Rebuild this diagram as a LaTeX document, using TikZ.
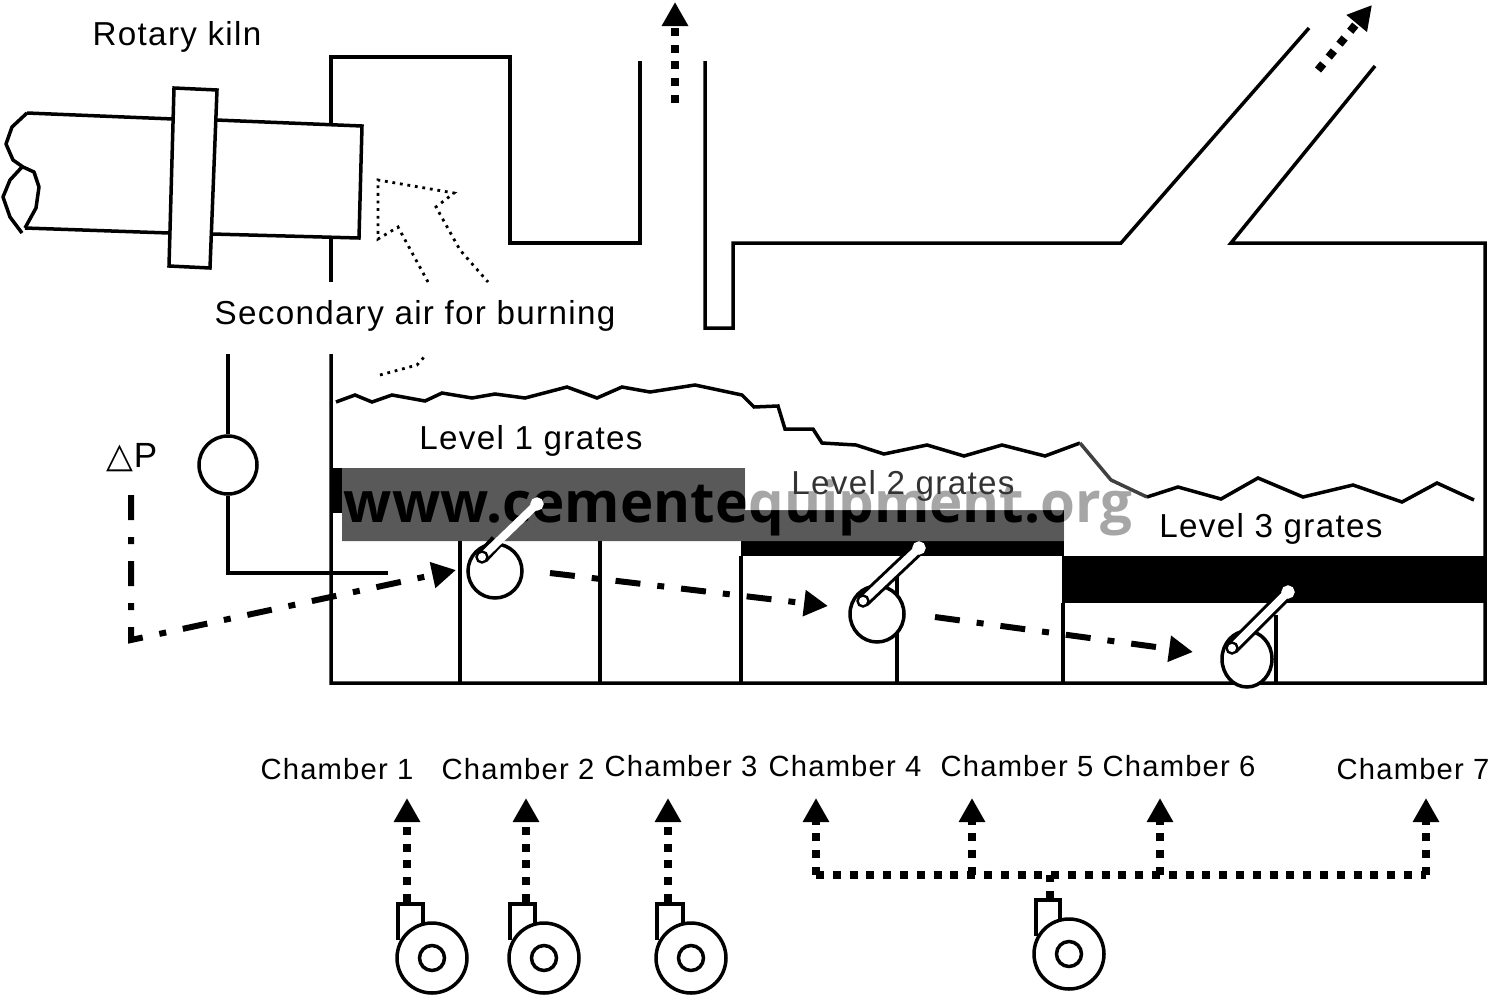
\documentclass[tikz,border=0pt]{standalone}
\usepackage{fontspec}
\setmainfont[LetterSpace=4]{Liberation Sans}
\newfontfamily\symfont{DejaVu Sans}
\newfontfamily\markfont[Scale=1]{Open Sans}
\usetikzlibrary{arrows.meta,shapes.geometric}
\definecolor{wmdark}{HTML}{595959}
\tikzset{
  x=0.5pt,y=-0.5pt,
  wall/.style={line width=1.75pt,line join=miter,line cap=butt},
  thinwall/.style={line width=1.75pt},
  ring/.style={circle,draw,line width=1.75pt,fill=white,inner sep=0pt},
  eye/.style={ellipse,draw,line width=1.75pt,fill=white,inner sep=0pt},
  dotair/.style={line width=1.4pt,dash pattern=on 1.4pt off 2.4pt},
  flow/.style={line width=4pt,dash pattern=on 4pt off 4.4pt,-{Triangle[length=12pt,width=12.5pt]}},
  flowline/.style={line width=4pt,dash pattern=on 4pt off 4.4pt},
  ctrl/.style={line width=3pt,dash pattern=on 12.5pt off 8.5pt on 3.5pt off 8.5pt,-{Triangle[length=12pt,width=12.5pt]}},
  lab/.style={font=\fontsize{16.6}{16.6}\selectfont,inner sep=0pt,text=black},
  chlab/.style={font=\fontsize{14.6}{14.6}\selectfont,inner sep=0pt,text=black},
  pin/.style={circle,draw,line width=1.2pt,fill=white,inner sep=0pt,minimum size=5.5pt},
}
\newcommand{\crank}[5]{% name, x1,y1,x2,y2
  \coordinate (#1a) at (#2,#3);
  \coordinate (#1b) at (#4,#5);
  \draw[line width=7pt] (#1a) -- (#1b);
  \draw[line width=4pt,white] (#1a) -- (#1b);
  \node[pin] at (#1a) {};
  \node[pin,draw=white] at (#1b) {};
}
\newcommand{\fan}[3]{% name, cx, cy
  \node[ring,minimum size=35pt] (#1) at (#2,#3) {};
  \node[ring,minimum size=12.5pt] (#1h) at (#2,#3) {};
}
\begin{document}
\begin{tikzpicture}
\useasboundingbox (0,0) rectangle (1489,996);
% grate bars
\fill (331,468) rectangle (342,513);
\fill (741,541) rectangle (1064,556);
\fill (1062,556) rectangle (1485,603);
% watermark
\fill[wmdark] (342,468) -- (745,468) -- (745,510) -- (1064,510) -- (1064,541) -- (342,541) -- cycle;
\node[inner sep=0pt,font=\markfont\bfseries\fontsize{28.2}{28.2}\selectfont] (wm) at (738,508) {www.cementequipment.org};
\fill[white,opacity=.65] (745,466) -- (1145,466) -- (1145,545) -- (1064,545) -- (1064,510) -- (745,510) -- cycle;
% furnace walls
\draw[wall] (331,125) -- (331,57) -- (510,57) -- (510,243) -- (640,243) -- (640,61);
\draw[wall] (705,61) -- (705,328) -- (733,328) -- (733,243) -- (1121,243) -- (1309,28);
\draw[wall] (1375,66) -- (1231,243) -- (1485,243) -- (1485,683) -- (331,683) -- (331,354);
\draw[wall] (331,238) -- (331,282);
% chamber partitions
\draw[thinwall] (460,541) -- (460,683);
\draw[thinwall] (600,541) -- (600,683);
\draw[thinwall] (741,556) -- (741,683);
\draw[thinwall] (897,575) -- (897,683);
\draw[thinwall] (1063,603) -- (1063,683);
\draw[thinwall] (1276,615) -- (1276,683);
% kiln
\draw[wall] (25,228) -- (169,233);
\draw[wall] (27,113) -- (173,119);
\draw[wall] (216,120) -- (362,126) -- (359,238) -- (212,234);
\draw[wall] (174,88) -- (217,90) -- (210,268) -- (169,266) -- cycle;
\draw[line width=1.75pt,line join=round] (27,113) -- (12,127) -- (6,144) -- (13,160) -- (23,167) -- (34,172) -- (39,187) -- (36,208) -- (25,228);
\draw[line width=1.75pt,line join=round] (22,167) -- (10,180) -- (3,197) -- (10,217) -- (22,233);
\node[lab] (kiln) at (177,37) {Rotary kiln};
% secondary air
\draw[dotair] (428,282) -- (398,227) -- (378,239) -- (378,180) -- (454,193) -- (436,207) -- (460,250) -- (488,282);
\draw[dotair] (380,375) -- (417,365) -- (425,356);
\node[lab] (sec) at (415,316) {Secondary air for burning};
% material bed
\draw[line width=1.75pt,line join=miter] (336,402) -- (355,395) -- (372,402) -- (392,395) -- (425,401) -- (442,393) -- (472,398) -- (495,394) -- (525,398) -- (567,387) -- (597,398) -- (622,387) -- (650,392) -- (695,385) -- (742,395) -- (754,407) -- (778,406) -- (785,429) -- (813,429) -- (822,443) -- (856,445) -- (884,454) -- (927,445) -- (964,456) -- (1002,445) -- (1045,456) -- (1080,443);
\draw[line width=1.75pt,color=black!75] (1080,443) -- (1111,480) -- (1147,497);
\draw[line width=1.75pt] (1147,497) -- (1178,487) -- (1221,499) -- (1258,478) -- (1303,497) -- (1353,485) -- (1402,502) -- (1437,483) -- (1474,500);
\node[lab] (l1) at (531,441) {Level 1 grates};
\node[lab,text=black!80] (l2) at (903,486) {Level 2 grates};
\node[lab] (l3) at (1271,529) {Level 3 grates};
% pressure gauge
\node[ring,minimum size=29pt] (gauge) at (228,465) {};
\coordinate (pt) at (228,354);
\coordinate (pb) at (228,573);
\coordinate (pe) at (388,573);
\draw[thinwall] (pt) -- (gauge);
\draw[thinwall] (gauge) -- (pb) -- (pe);
\node[inner sep=0pt,font=\fontsize{17.5}{17.5}\selectfont] (dp) at (132,458) {{\symfont △}P};
% dampers
\node[ring,minimum size=27pt] (d1) at (495,571) {};
\node[eye,minimum width=27pt,minimum height=28pt] (d2) at (877,614) {};
\node[eye,minimum width=25pt,minimum height=28pt] (d3) at (1247,659) {};
\draw[line width=7pt] (482,557) -- (497,541);
\draw[line width=4pt,white] (482,557) -- (537,504);
\node[pin] (p1a) at (482,557) {};
\node[pin,draw=white] (p1b) at (537,504) {};
\crank{c2}{863}{601}{919}{548}
\crank{c3}{1232}{648}{1288}{592}
% control lines
\coordinate (c0) at (131,495);
\coordinate (c1) at (131,640);
\coordinate (a1) at (456,570);
\coordinate (a2s) at (550,573);
\coordinate (a2e) at (828,606);
\coordinate (a3s) at (935,617);
\coordinate (a3e) at (1193,652);
\draw[ctrl] (c0) -- (c1) -- (a1);
\draw[ctrl] (a2s) -- (a2e);
\draw[ctrl] (a3s) -- (a3e);
% exhaust flows
\coordinate (t1) at (675,103);
\coordinate (t2) at (675,2);
\coordinate (t3) at (1318,70);
\coordinate (t4) at (1372,5);
\draw[flow] (t1) -- (t2);
\draw[flow] (t3) -- (t4);
% chamber labels
\node[chlab] (ch1) at (337,769) {Chamber 1};
\node[chlab] (ch2) at (518,769) {Chamber 2};
\node[chlab] (ch3) at (681,766) {Chamber 3};
\node[chlab] (ch4) at (845,766) {Chamber 4};
\node[chlab] (ch5) at (1017,766) {Chamber 5};
\node[chlab] (ch6) at (1179,766) {Chamber 6};
\node[chlab] (ch7) at (1413,769) {Chamber 7};
% fans
\draw[thinwall] (398,940) -- (398,904) -- (423,904) -- (423,926);
\fan{f1}{432}{958}
\draw[thinwall] (510,940) -- (510,904) -- (535,904) -- (535,926);
\fan{f2}{544}{958}
\draw[thinwall] (657,940) -- (657,904) -- (683,904) -- (683,926);
\fan{f3}{691}{958}
\draw[thinwall] (1036,936) -- (1036,900) -- (1060,900) -- (1060,922);
\fan{f4}{1069}{954}
\coordinate (u1) at (407,902);
\coordinate (v1) at (407,798);
\coordinate (u2) at (526,902);
\coordinate (v2) at (526,798);
\coordinate (u3) at (668,902);
\coordinate (v3) at (668,798);
\draw[flow] (u1) -- (v1);
\draw[flow] (u2) -- (v2);
\draw[flow] (u3) -- (v3);
\coordinate (h0) at (816,875);
\coordinate (h1) at (972,875);
\coordinate (h2) at (1160,875);
\coordinate (h3) at (1426,875);
\coordinate (h4) at (1050,875);
\coordinate (h5) at (1050,899);
\coordinate (v4) at (816,798);
\coordinate (v5) at (972,798);
\coordinate (v6) at (1160,798);
\coordinate (v7) at (1426,798);
\draw[flowline] (h0) -- (h3);
\draw[flowline] (h5) -- (h4);
\draw[flow] (h0) -- (v4);
\draw[flow] (h1) -- (v5);
\draw[flow] (h2) -- (v6);
\draw[flow] (h3) -- (v7);
\end{tikzpicture}
\end{document}
